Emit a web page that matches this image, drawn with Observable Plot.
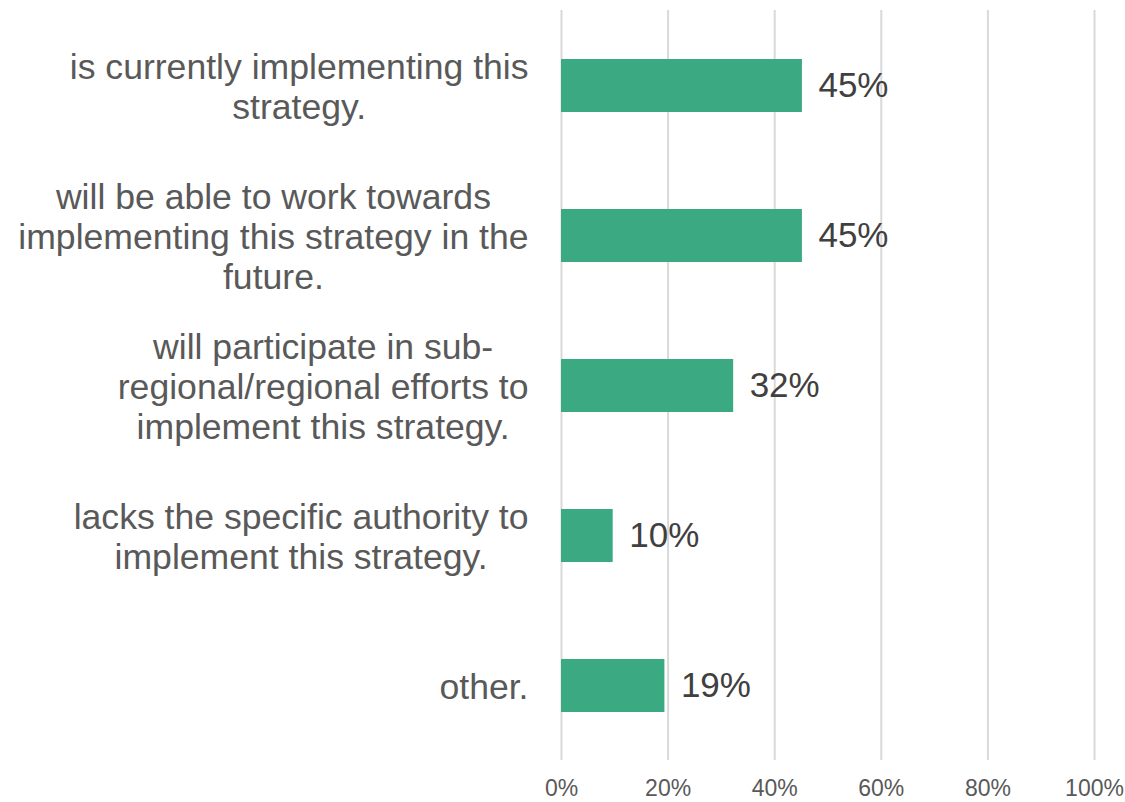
<!DOCTYPE html>
<html><head><meta charset="utf-8">
<script src="https://cdn.jsdelivr.net/npm/d3@7"></script>
<script src="https://cdn.jsdelivr.net/npm/@observablehq/plot@0.6"></script>
<style>body{margin:0;background:#fff}</style>
</head><body><div id="chart"></div>
<script>
const categories = [
  "is currently implementing this\nstrategy.",
  "will be able to work towards\nimplementing this strategy in the\nfuture.",
  "will participate in sub-\nregional/regional efforts to\nimplement this strategy.",
  "lacks the specific authority to\nimplement this strategy.",
  "other."
];
const values = [0.452, 0.452, 0.323, 0.097, 0.194];
const xTicks = [0, 0.2, 0.4, 0.6, 0.8, 1];

const data = categories.map((c, i) => ({category: c, value: values[i]}));
const pct = d3.format(".0%");

const chart = Plot.plot({
  width: 1125, height: 802,
  marginLeft: 561, marginRight: 31, marginTop: 10, marginBottom: 42,
  style: {fontFamily: "'Liberation Sans', Arial, sans-serif", background: "#fff"},
  x: {domain: [0, 1]},
  y: {domain: categories, paddingInner: 0.647, paddingOuter: 0.3235},
  marks: [
    Plot.ruleX(xTicks, {stroke: "#d9d9d9", strokeWidth: 2}),
    Plot.barX(data, {x: "value", y: "category", fill: "#3BAA83"}),
    Plot.text(data, {x: "value", y: "category", text: d => pct(d.value), textAnchor: "start", dx: 16, fontSize: 35, fill: "#404040"}),
    Plot.axisX({ticks: xTicks, tickFormat: pct, tickSize: 0, tickPadding: 19, fontSize: 23, fill: "#595959", label: null}),
    Plot.axisY({tickSize: 0, tickPadding: 33, fontSize: 35.6, fill: "#595959", lineHeight: 1.12, label: null})
  ]
});
document.getElementById("chart").appendChild(chart);
chart.querySelectorAll('g[aria-label="y-axis tick label"] text').forEach(t => {
  const w = t.getBBox().width;
  t.setAttribute("text-anchor", "middle");
  const tr = t.getAttribute("transform") || "";
  t.setAttribute("transform", tr + ` translate(${-w / 2},0)`);
});
</script>
</body></html>
